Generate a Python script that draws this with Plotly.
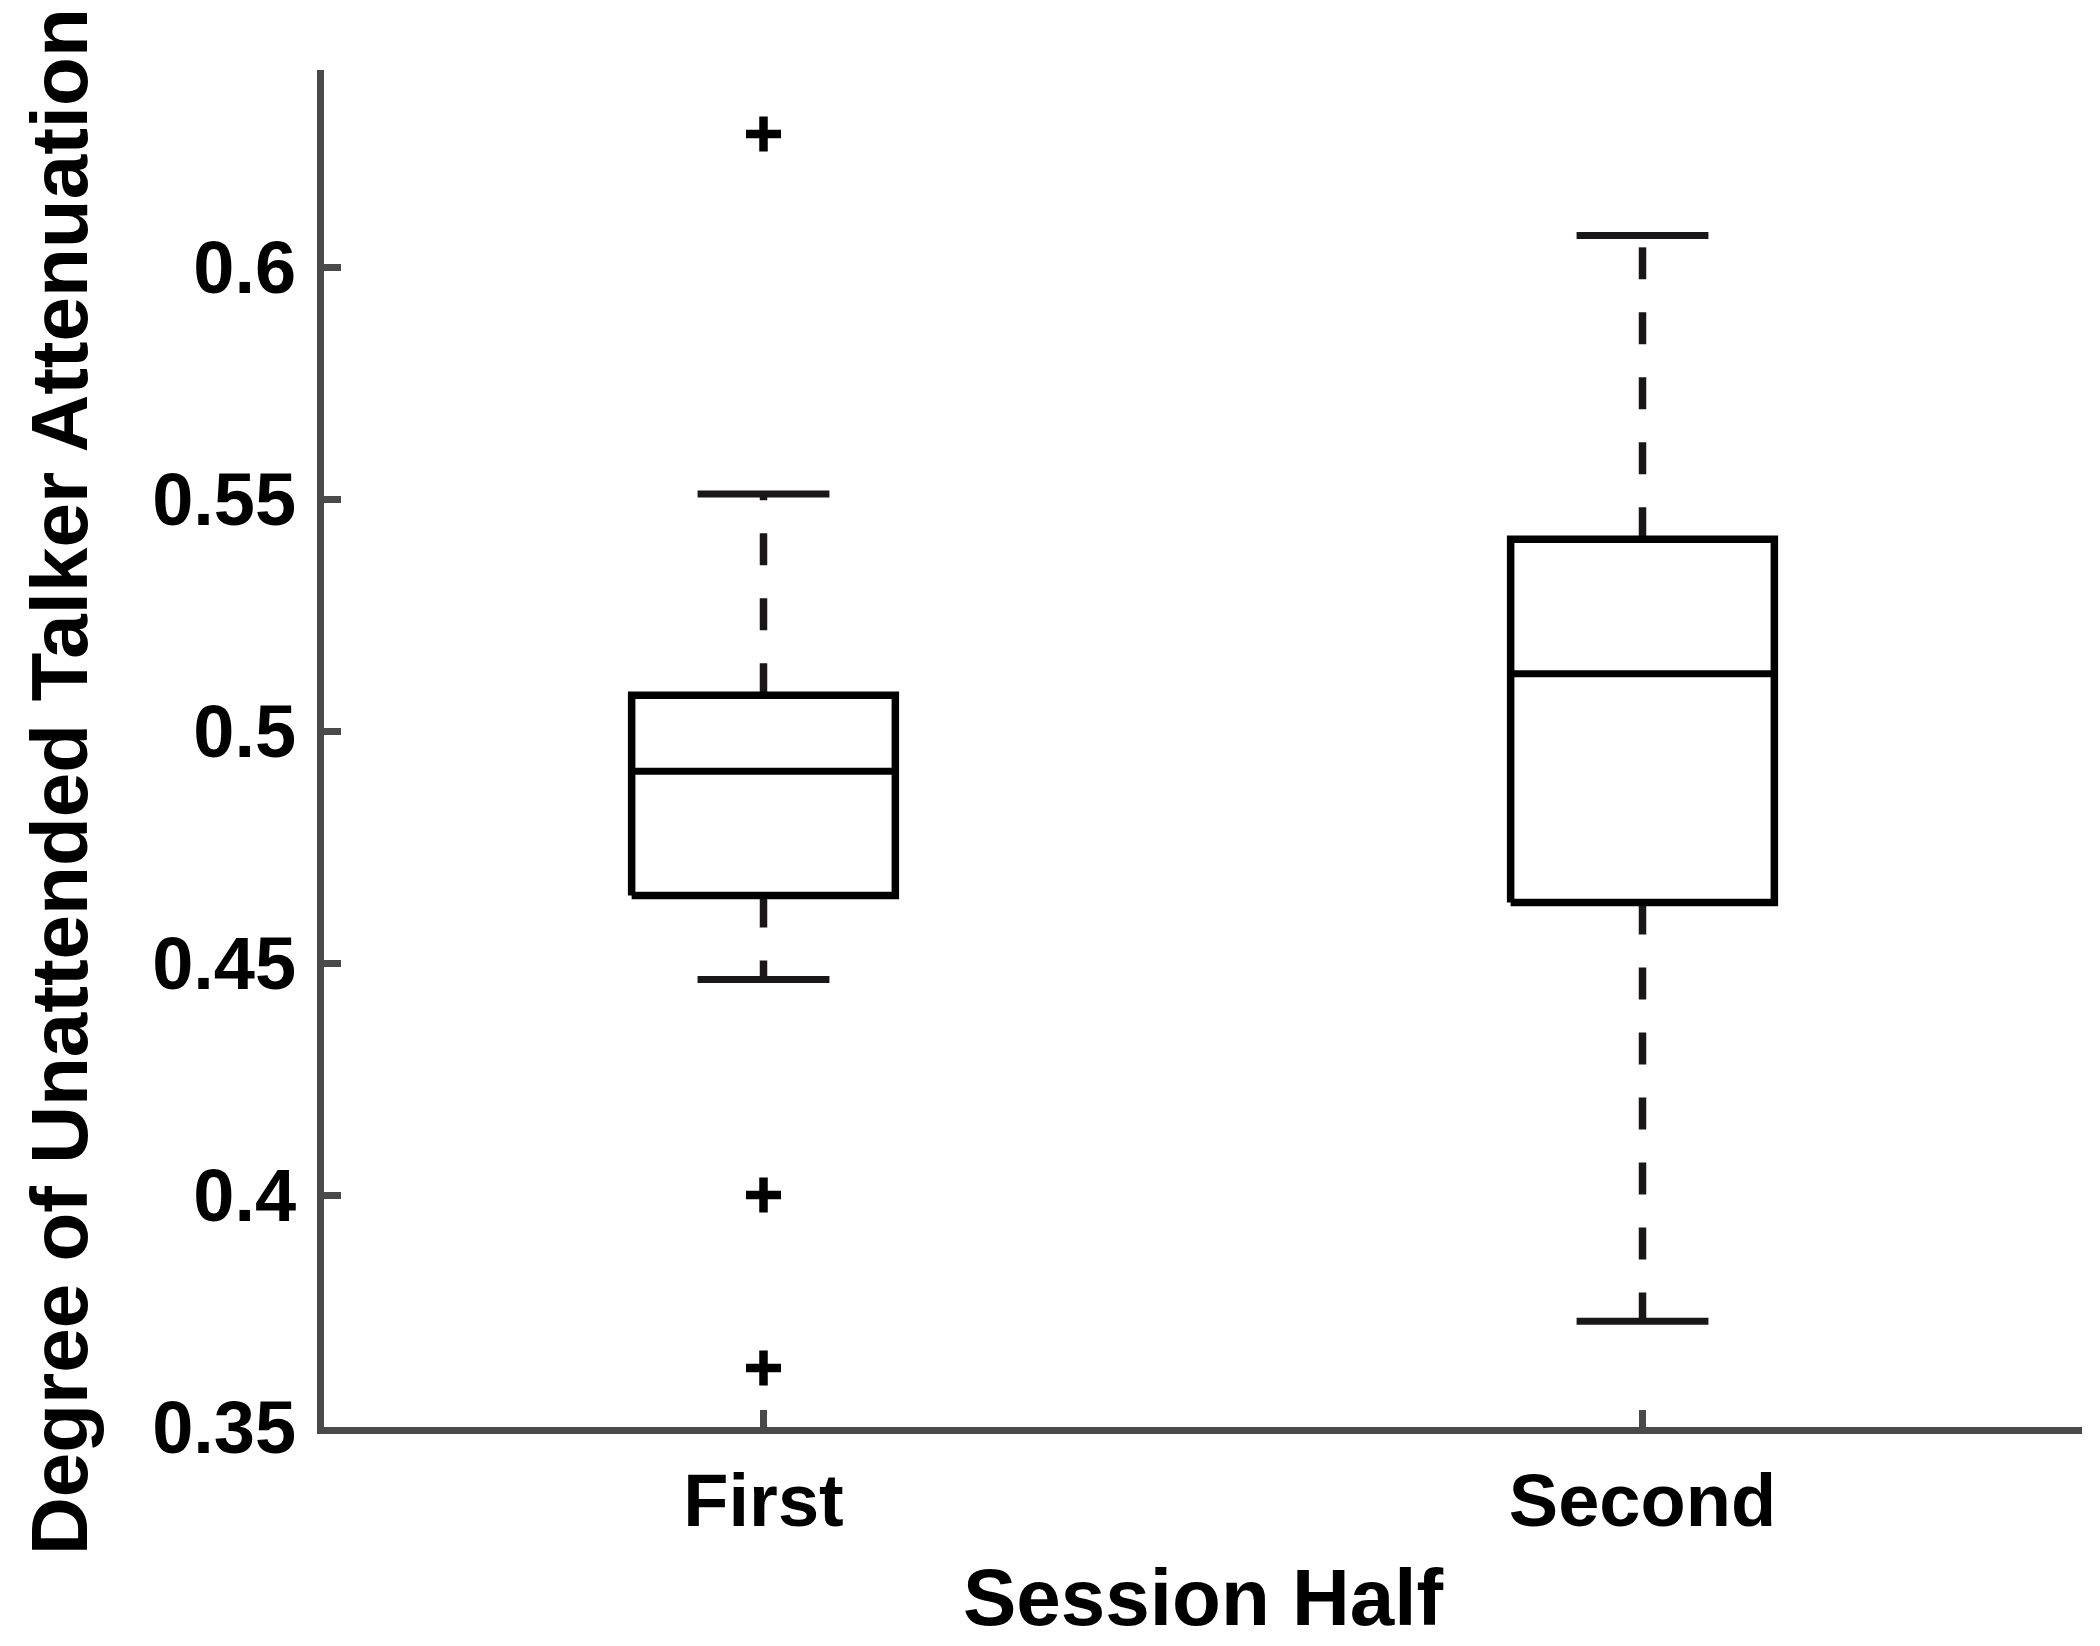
import plotly.graph_objects as go

# ---- data ----
categories = ["First", "Second"]
positions = [1, 2]
q1 = [0.4646, 0.4631]
median = [0.4914, 0.5124]
q3 = [0.5078, 0.5414]
lower_whisker = [0.4465, 0.3728]
upper_whisker = [0.5512, 0.6069]
outliers = {"First": [0.6288, 0.4, 0.3627], "Second": []}

y_ticks = [0.35, 0.4, 0.45, 0.5, 0.55, 0.6]
y_ticktext = ["0.35", "0.4", "0.45", "0.5", "0.55", "0.6"]

# ---- style ----
BOX_W = 0.30
CAP_W = 0.15
INK = "#1a1718"
AXIS = "#4a4a4a"
FONT = "Liberation Sans, Arial, Helvetica, sans-serif"

fig = go.Figure()

for cat, x, a, m, b, lo, hi in zip(categories, positions, q1, median, q3,
                                   lower_whisker, upper_whisker):
    hw = BOX_W / 2
    cw = CAP_W / 2
    # whiskers (dashed), starting at the box edge
    fig.add_trace(go.Scatter(x=[x, x], y=[b, hi], mode="lines",
                             line=dict(color=INK, width=7.5, dash="32px,33px"),
                             hoverinfo="skip", showlegend=False))
    fig.add_trace(go.Scatter(x=[x, x], y=[a, lo], mode="lines",
                             line=dict(color=INK, width=7.5, dash="32px,33px"),
                             hoverinfo="skip", showlegend=False))
    # caps
    for v in (lo, hi):
        fig.add_trace(go.Scatter(x=[x - cw, x + cw], y=[v, v], mode="lines",
                                 line=dict(color=INK, width=7),
                                 hoverinfo="skip", showlegend=False))
    # box
    fig.add_trace(go.Scatter(x=[x - hw, x + hw, x + hw, x - hw, x - hw],
                             y=[a, a, b, b, a], mode="lines",
                             fill="toself", fillcolor="white",
                             line=dict(color="#000000", width=7.5),
                             hoverinfo="skip", showlegend=False))
    # median
    fig.add_trace(go.Scatter(x=[x - hw, x + hw], y=[m, m], mode="lines",
                             line=dict(color="#000000", width=7),
                             hoverinfo="skip", showlegend=False))
    # outliers
    if outliers[cat]:
        fig.add_trace(go.Scatter(x=[x] * len(outliers[cat]), y=outliers[cat],
                                 mode="markers",
                                 marker=dict(symbol="cross-thin", size=25,
                                             line=dict(color="#000000", width=8.5)),
                                 hoverinfo="skip", showlegend=False))

fig.update_layout(
    width=2100, height=1646,
    margin=dict(l=324, r=18, t=70, b=219),
    plot_bgcolor="white", paper_bgcolor="white",
    font=dict(family=FONT, color="#000000"),
    showlegend=False,
    xaxis=dict(range=[0.5, 2.5], tickvals=positions, ticktext=categories,
               showline=True, linecolor=AXIS, linewidth=7, mirror=False,
               ticks="inside", ticklen=17, tickwidth=7, tickcolor=AXIS,
               showgrid=False, zeroline=False,
               tickfont=dict(size=74, family=FONT, weight="bold", color="#000000"),
               ticklabelstandoff=3),
    yaxis=dict(range=[0.35, 0.6426], tickvals=y_ticks, ticktext=y_ticktext,
               showline=True, linecolor=AXIS, linewidth=7, mirror=False,
               ticks="inside", ticklen=17, tickwidth=7, tickcolor=AXIS,
               showgrid=False, zeroline=False,
               tickfont=dict(size=74, family=FONT, weight="bold", color="#000000"),
               ticklabelstandoff=6),
    annotations=[
        dict(text="Session Half", xref="paper", yref="paper", x=0.5, y=-0.126,
             xanchor="center", yanchor="middle", showarrow=False,
             font=dict(size=80, family=FONT, weight="bold", color="#000000")),
        dict(text="Degree of Unattended Talker Attenuation", xref="paper", yref="paper",
             x=-0.1505, y=0.4756, xanchor="center", yanchor="middle", textangle=-90,
             showarrow=False,
             font=dict(size=80, family=FONT, weight="bold", color="#000000")),
    ],
)

fig.write_html("out.html")
